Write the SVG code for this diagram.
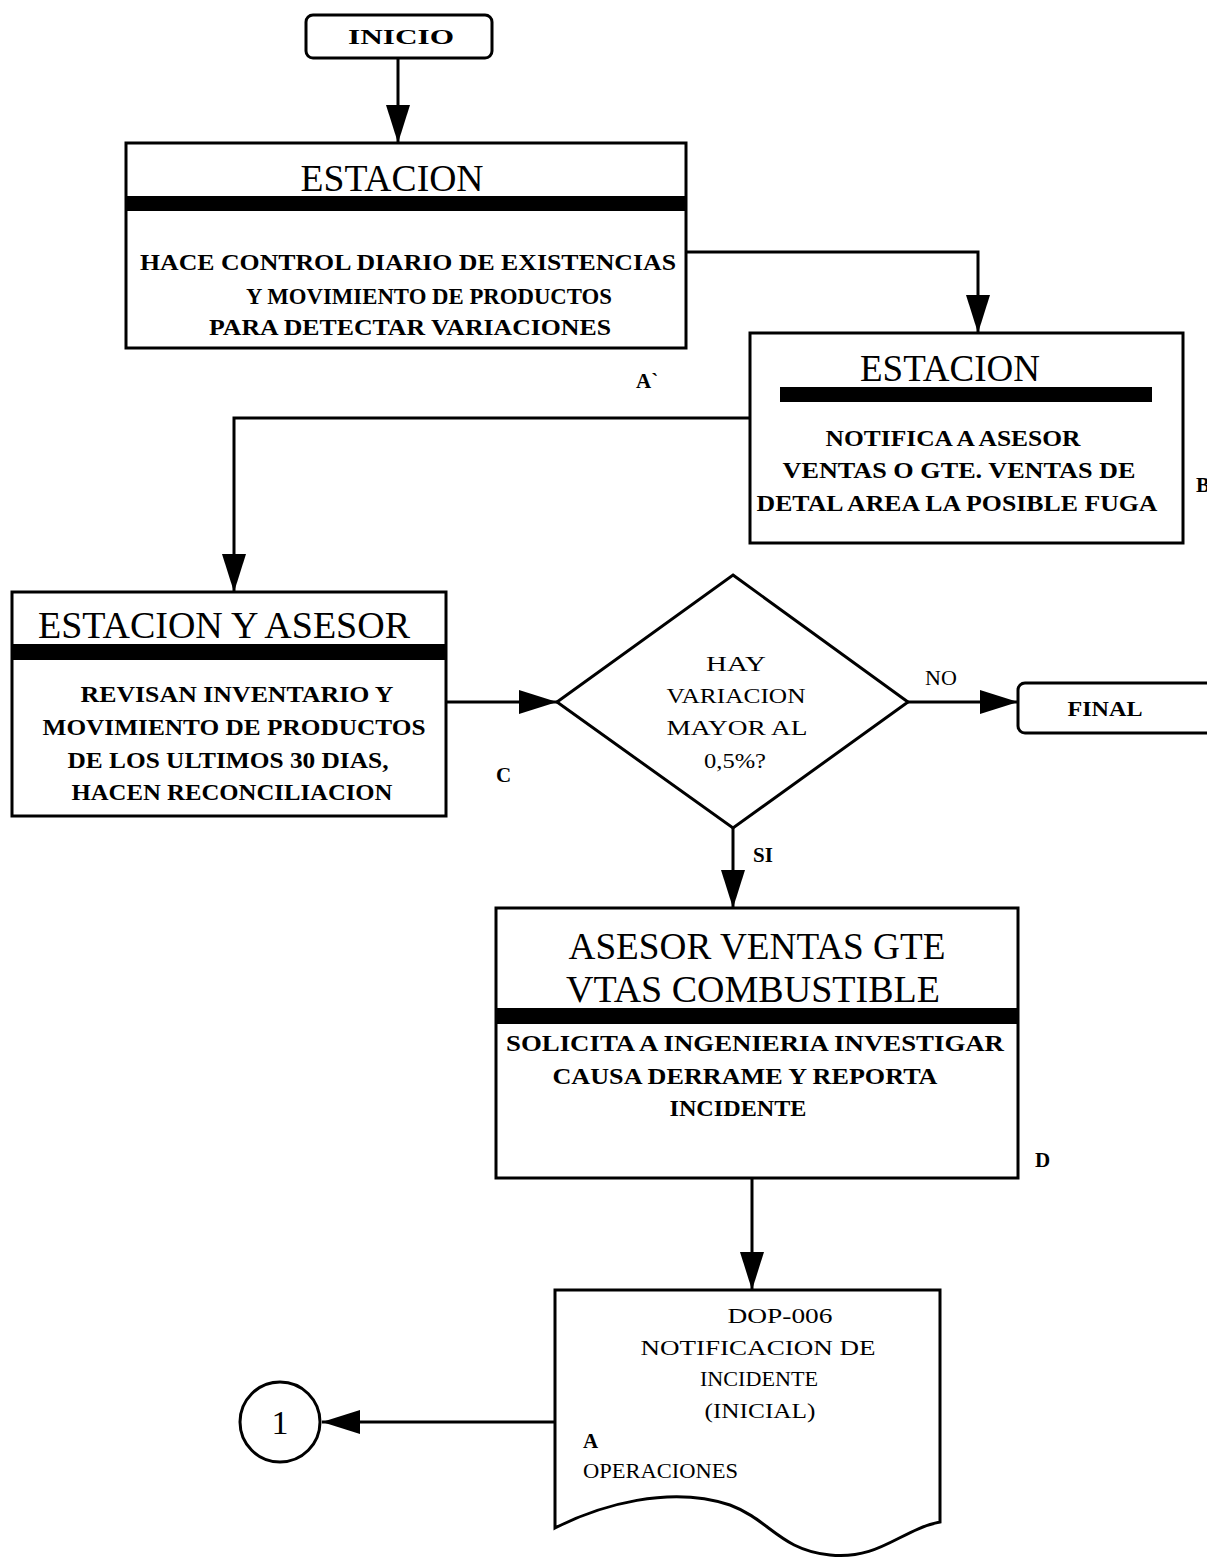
<svg xmlns="http://www.w3.org/2000/svg" width="1207" height="1560" viewBox="0 0 1207 1560">
<style>
.shape{fill:#fff;stroke:#000;stroke-width:3}
.bar{fill:#000}
.conn{fill:none;stroke:#000;stroke-width:3}
.title{font-family:"Liberation Serif",serif;font-size:38px;text-anchor:middle;fill:#000}
.body{font-family:"Liberation Serif",serif;font-size:23px;font-weight:bold;text-anchor:middle;fill:#000}
.reg{font-family:"Liberation Serif",serif;font-size:22px;text-anchor:middle;fill:#000}
.lbl{font-family:"Liberation Serif",serif;font-size:21px;font-weight:bold;fill:#000}
</style>
<defs>
<marker id="arr" markerUnits="userSpaceOnUse" markerWidth="40" markerHeight="26" refX="38" refY="12" orient="auto">
<path d="M0,0 L38,12 L0,24 z" fill="#000"/>
</marker>
</defs>
<rect width="1207" height="1560" fill="#fff"/>
<g id="connectors">
<path class="conn" d="M398,58 V143" marker-end="url(#arr)"/>
<path class="conn" d="M686,252 H978 V333" marker-end="url(#arr)"/>
<path class="conn" d="M750,418 H234 V592" marker-end="url(#arr)"/>
<path class="conn" d="M446,702 H557" marker-end="url(#arr)"/>
<path class="conn" d="M908,702 H1018" marker-end="url(#arr)"/>
<path class="conn" d="M733,828 V908" marker-end="url(#arr)"/>
<path class="conn" d="M752,1178 V1290" marker-end="url(#arr)"/>
<path class="conn" d="M555,1422 H322" marker-end="url(#arr)"/>
<text class="reg" x="941" y="685">NO</text>
<text class="lbl" x="753" y="862">SI</text>
</g>
<g id="inicio">
<rect class="shape" x="306" y="15" width="186" height="43" rx="7"/>
<text class="lbl" x="401" y="44" style="text-anchor:middle;font-size:21px" textLength="106" lengthAdjust="spacingAndGlyphs">INICIO</text>
</g>
<g id="box1">
<rect class="shape" x="126" y="143" width="560" height="205"/>
<text class="title" x="392" y="191" textLength="183" lengthAdjust="spacingAndGlyphs">ESTACION</text>
<rect class="bar" x="126" y="196" width="560" height="15"/>
<text class="body" x="408" y="270" textLength="536" lengthAdjust="spacingAndGlyphs">HACE CONTROL DIARIO  DE  EXISTENCIAS</text>
<text class="body" x="429" y="304" textLength="366" lengthAdjust="spacingAndGlyphs">Y MOVIMIENTO DE PRODUCTOS</text>
<text class="body" x="410" y="335" textLength="402" lengthAdjust="spacingAndGlyphs">PARA DETECTAR  VARIACIONES</text>
<text class="lbl" x="636" y="388">A`</text>
</g>
<g id="box2">
<rect class="shape" x="750" y="333" width="433" height="210"/>
<text class="title" x="950" y="381" textLength="180" lengthAdjust="spacingAndGlyphs">ESTACION</text>
<rect class="bar" x="780" y="387" width="372" height="15"/>
<text class="body" x="953" y="446" textLength="255" lengthAdjust="spacingAndGlyphs">NOTIFICA A ASESOR</text>
<text class="body" x="959" y="478" textLength="353" lengthAdjust="spacingAndGlyphs">VENTAS O GTE. VENTAS DE</text>
<text class="body" x="957" y="511" textLength="401" lengthAdjust="spacingAndGlyphs">DETAL AREA LA POSIBLE FUGA</text>
<text class="lbl" x="1196" y="492">B</text>
</g>
<g id="box3">
<rect class="shape" x="12" y="592" width="434" height="224"/>
<text class="title" x="224" y="638" textLength="372" lengthAdjust="spacingAndGlyphs">ESTACION Y ASESOR</text>
<rect class="bar" x="12" y="644" width="434" height="16"/>
<text class="body" x="237" y="702" textLength="313" lengthAdjust="spacingAndGlyphs">REVISAN INVENTARIO  Y</text>
<text class="body" x="234" y="735" textLength="383" lengthAdjust="spacingAndGlyphs">MOVIMIENTO DE PRODUCTOS</text>
<text class="body" x="228" y="768" textLength="321" lengthAdjust="spacingAndGlyphs">DE LOS ULTIMOS 30 DIAS,</text>
<text class="body" x="232" y="800" textLength="321" lengthAdjust="spacingAndGlyphs">HACEN  RECONCILIACION</text>
<text class="lbl" x="496" y="782">C</text>
</g>
<g id="decision">
<polygon class="shape" points="733,575 908,702 733,828 557,702"/>
<text class="reg" x="736" y="671" textLength="60" lengthAdjust="spacingAndGlyphs">HAY</text>
<text class="reg" x="736" y="703" textLength="139" lengthAdjust="spacingAndGlyphs">VARIACION</text>
<text class="reg" x="737" y="735" textLength="141" lengthAdjust="spacingAndGlyphs">MAYOR AL</text>
<text class="reg" x="735" y="768" textLength="62" lengthAdjust="spacingAndGlyphs">0,5%?</text>
</g>
<g id="final">
<rect class="shape" x="1018" y="683" width="200" height="50" rx="7"/>
<text class="lbl" x="1105" y="716" style="text-anchor:middle;font-size:21px" textLength="75" lengthAdjust="spacingAndGlyphs">FINAL</text>
</g>
<g id="box4">
<rect class="shape" x="496" y="908" width="522" height="270"/>
<text class="title" x="757" y="959" textLength="377" lengthAdjust="spacingAndGlyphs">ASESOR VENTAS GTE</text>
<text class="title" x="753" y="1002" textLength="374" lengthAdjust="spacingAndGlyphs">VTAS  COMBUSTIBLE</text>
<rect class="bar" x="496" y="1008" width="522" height="16"/>
<text class="body" x="755" y="1051" textLength="498" lengthAdjust="spacingAndGlyphs">SOLICITA A INGENIERIA INVESTIGAR</text>
<text class="body" x="745" y="1084" textLength="385" lengthAdjust="spacingAndGlyphs">CAUSA DERRAME Y REPORTA</text>
<text class="body" x="738" y="1116" textLength="137" lengthAdjust="spacingAndGlyphs">INCIDENTE</text>
<text class="lbl" x="1035" y="1167">D</text>
</g>
<g id="document">
<path class="shape" d="M555,1290 H940 V1522 C900,1530 880,1560 830,1555 C780,1550 770,1520 730,1505 C670,1485 600,1505 555,1528 Z"/>
<text class="reg" x="780" y="1323" textLength="105" lengthAdjust="spacingAndGlyphs">DOP-006</text>
<text class="reg" x="758" y="1355" textLength="235" lengthAdjust="spacingAndGlyphs">NOTIFICACION DE</text>
<text class="reg" x="759" y="1386" textLength="118" lengthAdjust="spacingAndGlyphs">INCIDENTE</text>
<text class="reg" x="760" y="1418" textLength="111" lengthAdjust="spacingAndGlyphs">(INICIAL)</text>
<text class="lbl" x="583" y="1448">A</text>
<text class="reg" x="583" y="1478" style="text-anchor:start" textLength="155" lengthAdjust="spacingAndGlyphs">OPERACIONES</text>
</g>
<g id="connector1">
<circle class="shape" cx="280" cy="1422" r="40"/>
<text class="reg" x="280" y="1434" style="font-size:34px">1</text>
</g>
</svg>
